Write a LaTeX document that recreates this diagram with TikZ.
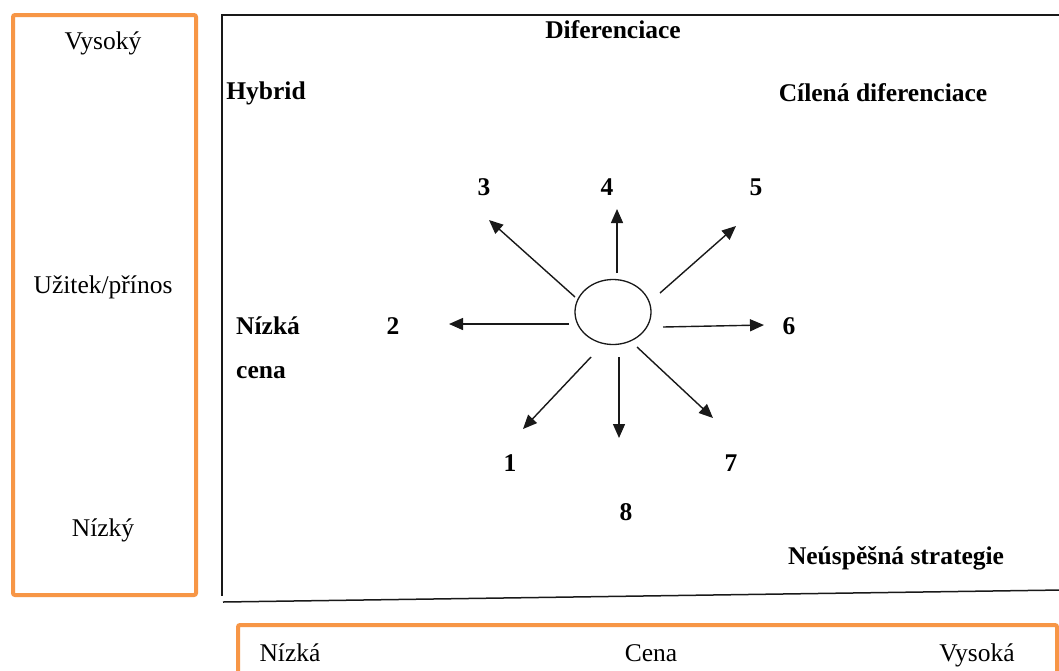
\documentclass[tikz,border=0pt]{standalone}
\usepackage{fontspec}
\setmainfont{Liberation Serif}
\usetikzlibrary{arrows.meta,shapes.geometric}
\definecolor{frameorange}{HTML}{F79646}
\tikzset{
  orangebox/.style={draw=frameorange, line width=4pt, rounded corners=2pt},
  axisline/.style={draw=black!90, line width=1.5pt},
  lbl/.style={inner sep=0pt, font=\fontsize{25.5}{30}\selectfont},
  blbl/.style={inner sep=0pt, font=\fontsize{25.5}{30}\selectfont\bfseries},
  ray/.style={draw=black!90, line width=1.4pt, -{Triangle[length=14pt,width=12pt]}},
}
\begin{document}
\begin{tikzpicture}[x=1pt,y=-1pt]
\path[use as bounding box, clip] (0,0) rectangle (1059,670);
\fill[white] (0,0) rectangle (1059,670);

% vertical axis panel: benefit
\draw[orangebox] (13,15) rectangle (196,595);
\node[lbl] (vys) at (103,43) {Vysoký};
\node[lbl] (uz) at (103,287) {Užitek/přínos};
\node[lbl] (niz) at (103,530) {Nízký};

% horizontal axis panel: price
\draw[orangebox] (238,625) rectangle (1057,690);
\node[lbl, anchor=base] (pn) at (290,661) {Nízká};
\node[lbl, anchor=base] (pc) at (651,661) {Cena};
\node[lbl, anchor=base] (pv) at (977,661) {Vysoká};

% strategy clock frame
\draw[axisline] (1062,15) -- (222,15) -- (222,596);
\draw[axisline] (223,602) -- (1062,590);

% corner and edge labels
\node[blbl] (dif) at (613,30) {Diferenciace};
\node[blbl] (hyb) at (266,93) {Hybrid};
\node[blbl] (cil) at (883,93) {Cílená diferenciace};
\node[blbl, anchor=west] (nc1) at (236,326) {Nízká};
\node[blbl, anchor=west] (nc2) at (236,373) {cena};
\node[blbl] (neu) at (896,558) {Neúspěšná strategie};

% centre and rays
\node[ellipse, draw=black!90, line width=1.3pt, minimum width=76pt, minimum height=65pt, inner sep=0pt] (c) at (613,312) {};

\coordinate (s1) at (591,357); \coordinate (t1) at (523,429);
\coordinate (s2) at (569,324); \coordinate (t2) at (449,324);
\coordinate (s3) at (575,297); \coordinate (t3) at (489,220);
\coordinate (s4) at (617,273); \coordinate (t4) at (617,209);
\coordinate (s5) at (660,293); \coordinate (t5) at (736,226);
\coordinate (s6) at (663,327); \coordinate (t6) at (764,325);
\coordinate (s7) at (637,347); \coordinate (t7) at (713,418);
\coordinate (s8) at (619,357); \coordinate (t8) at (619,438);

\foreach \i in {1,...,8} {\draw[ray] (s\i) -- (t\i);}

\node[blbl] (n1) at (510,463) {1};
\node[blbl] (n2) at (393,326) {2};
\node[blbl] (n3) at (484,187) {3};
\node[blbl] (n4) at (607,187) {4};
\node[blbl] (n5) at (756,187) {5};
\node[blbl] (n6) at (789,326) {6};
\node[blbl] (n7) at (731,463) {7};
\node[blbl] (n8) at (626,512) {8};
\end{tikzpicture}
\end{document}
